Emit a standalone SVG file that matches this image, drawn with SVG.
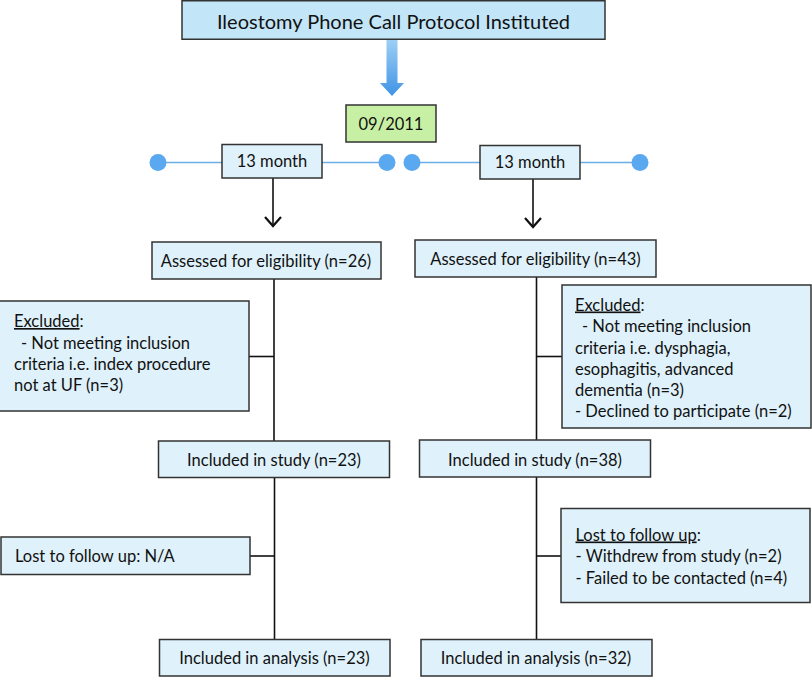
<svg xmlns="http://www.w3.org/2000/svg" width="812" height="677" viewBox="0 0 812 677">
<defs>
  <linearGradient id="blueArrow" x1="0" y1="0" x2="0" y2="1">
    <stop offset="0" stop-color="#9fd0f5"/>
    <stop offset="1" stop-color="#3f93e6"/>
  </linearGradient>
  <marker id="arrowOpen" viewBox="0 0 12 18" refX="10.5" refY="9" markerWidth="12" markerHeight="18" markerUnits="userSpaceOnUse" orient="auto">
    <path d="M1.5,1 L10.5,9 L1.5,17" fill="none" stroke="#111" stroke-width="2.2"/>
  </marker>
  <style>
    .box { fill: #dff1fb; stroke: #333; stroke-width: 1.5; }
    .title { fill: #c3e5f8; stroke: #333; stroke-width: 1.5; }
    .green { fill: #c8f0a4; stroke: #333; stroke-width: 1.5; }
    .t { font-family: Lato, "Liberation Sans", sans-serif; font-size: 16.5px; fill: #111; }
    .tc { text-anchor: middle; }
    .tt { font-family: Lato, "Liberation Sans", sans-serif; font-size: 20px; fill: #111; text-anchor: middle; }
    .conn { stroke: #111; stroke-width: 1.6; fill: none; }
    .tl { stroke: #6aaee8; stroke-width: 1.6; fill: none; }
    .dot { fill: #5aa8f0; }
    .u { text-decoration: underline; }
  </style>
</defs>

<g id="connectors">
  <path d="M386.5,39 H397.5 V83 H404 L392,96 L380,83 H386.5 Z" fill="url(#blueArrow)"/>
  <line class="tl" x1="158" y1="162.5" x2="387" y2="162.5"/>
  <line class="tl" x1="412" y1="162.5" x2="640" y2="162.5"/>
  <circle class="dot" cx="158" cy="162.5" r="8.5"/>
  <circle class="dot" cx="387" cy="162.5" r="8.5"/>
  <circle class="dot" cx="412" cy="162.5" r="8.5"/>
  <circle class="dot" cx="640" cy="162.5" r="8.5"/>
  <line class="conn" x1="273" y1="178" x2="273" y2="226" marker-end="url(#arrowOpen)"/>
  <line class="conn" x1="533" y1="179" x2="533" y2="227" marker-end="url(#arrowOpen)"/>
  <line class="conn" x1="274" y1="279" x2="274" y2="441"/>
  <line class="conn" x1="249" y1="356.5" x2="274" y2="356.5"/>
  <line class="conn" x1="536.5" y1="277" x2="536.5" y2="440"/>
  <line class="conn" x1="536.5" y1="356.5" x2="562" y2="356.5"/>
  <line class="conn" x1="274.5" y1="477" x2="274.5" y2="639"/>
  <line class="conn" x1="250" y1="556" x2="274.5" y2="556"/>
  <line class="conn" x1="536.5" y1="477" x2="536.5" y2="639"/>
  <line class="conn" x1="536.5" y1="556" x2="561" y2="556"/>
</g>

<g id="title">
  <rect class="title" x="182" y="0.75" width="423" height="38.5"/>
  <text class="tt" x="393.5" y="28.5">Ileostomy Phone Call Protocol Instituted</text>
</g>

<g id="date">
  <rect class="green" x="346" y="105" width="90" height="37"/>
  <text class="t tc" x="391" y="129.5">09/2011</text>
</g>

<g id="period-left">
  <rect class="box" x="222" y="144.5" width="100" height="33.5"/>
  <text class="t tc" x="272" y="166.5">13 month</text>
</g>

<g id="period-right">
  <rect class="box" x="480" y="145.5" width="100" height="33.5"/>
  <text class="t tc" x="530" y="167.5">13 month</text>
</g>

<g id="assessed-left">
  <rect class="box" x="152" y="242" width="229" height="37"/>
  <text class="t tc" x="266" y="267">Assessed for eligibility (n=26)</text>
</g>

<g id="assessed-right">
  <rect class="box" x="415" y="240" width="241" height="37"/>
  <text class="t tc" x="535.5" y="264.5">Assessed for eligibility (n=43)</text>
</g>

<g id="excluded-left">
  <rect class="box" x="-1" y="301" width="250" height="110"/>
  <text class="t" x="14" y="327"><tspan class="u">Excluded</tspan>:</text>
  <text class="t" x="21" y="348.5">- Not meeting inclusion</text>
  <text class="t" x="14" y="369.5">criteria i.e. index procedure</text>
  <text class="t" x="14" y="390.5">not at UF (n=3)</text>
</g>

<g id="excluded-right">
  <rect class="box" x="562" y="285" width="249" height="143"/>
  <text class="t" x="575" y="310.5"><tspan class="u">Excluded</tspan>:</text>
  <text class="t" x="582" y="332">- Not meeting inclusion</text>
  <text class="t" x="575" y="353.5">criteria i.e. dysphagia,</text>
  <text class="t" x="575" y="374.5">esophagitis, advanced</text>
  <text class="t" x="575" y="395.5">dementia (n=3)</text>
  <text class="t" x="575" y="417">- Declined to participate (n=2)</text>
</g>

<g id="included-left">
  <rect class="box" x="158.5" y="441" width="231" height="36.5"/>
  <text class="t tc" x="274" y="465.5">Included in study (n=23)</text>
</g>

<g id="included-right">
  <rect class="box" x="419.5" y="440" width="231" height="37"/>
  <text class="t tc" x="535" y="465.5">Included in study (n=38)</text>
</g>

<g id="lost-left">
  <rect class="box" x="1" y="537" width="249" height="37.5"/>
  <text class="t" x="15" y="561.5">Lost to follow up: N/A</text>
</g>

<g id="lost-right">
  <rect class="box" x="561" y="508.5" width="249" height="94"/>
  <text class="t" x="575.5" y="540.5"><tspan class="u">Lost to follow up</tspan>:</text>
  <text class="t" x="575.5" y="562">- Withdrew from study (n=2)</text>
  <text class="t" x="575.5" y="583.5">- Failed to be contacted (n=4)</text>
</g>

<g id="analysis-left">
  <rect class="box" x="159.5" y="639.5" width="230.5" height="36.5"/>
  <text class="t tc" x="274.5" y="663.5">Included in analysis (n=23)</text>
</g>

<g id="analysis-right">
  <rect class="box" x="421" y="639.5" width="231" height="36.5"/>
  <text class="t tc" x="536" y="663.5">Included in analysis (n=32)</text>
</g>
</svg>
